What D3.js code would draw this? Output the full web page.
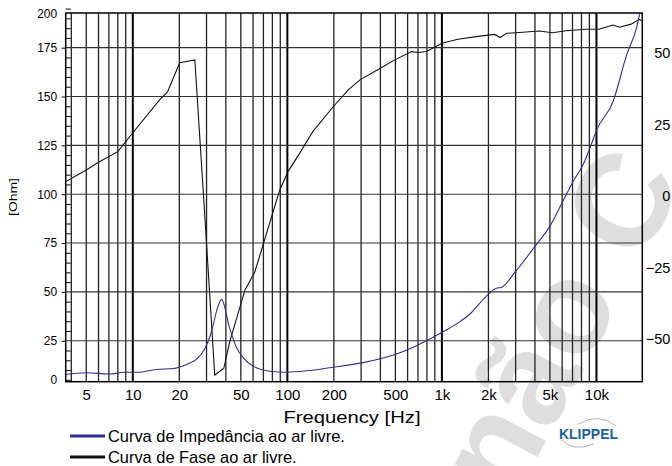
<!DOCTYPE html>
<html>
<head>
<meta charset="utf-8">
<script src="https://cdn.jsdelivr.net/npm/d3@7/dist/d3.min.js"></script>
<style>
  html, body { margin: 0; padding: 0; background: #fff; }
  svg { display: block; font-family: "Liberation Sans", Arial, sans-serif; }
</style>
</head>
<body>
<svg id="chart" width="672" height="466"></svg>
<script>
// impedance curve (Ohm) vs frequency (Hz)
const impFreq = [3.68, 5, 7.1, 8.8, 11.1, 12.9, 14.2, 18.2, 22.3, 25.8, 29.2, 32.3, 34.8, 37.5,
  42.4, 46.8, 51.8, 60.1, 77, 98.6, 140, 188, 309, 508, 686, 970, 1310, 1520, 1900, 2250, 2420,
  2980, 4000, 5010, 5960, 7080, 8220, 9290, 9920, 12850, 15700, 18200, 19100, 19600];
const impOhm = [7.7, 8.6, 8.0, 8.9, 8.9, 9.8, 10.3, 10.8, 12.9, 15.5, 20.8, 29.6, 40, 46.2,
  31.3, 21.7, 16.4, 12.0, 9.4, 8.9, 9.8, 11.2, 13.8, 18.2, 22.5, 28.7, 34.8, 38.7, 47.1, 51.9, 52.3,
  60.2, 73.3, 83.8, 95.2, 106.6, 115.3, 125.8, 132, 147.7, 171.4, 185.3, 192.4, 194.5];

// phase curve (degrees) vs frequency (Hz)
const phaseFreq = [3.68, 5, 6, 8, 10, 14.9, 16.8, 20.1, 25.2, 28.8, 33.9, 38.8, 42.4, 53.2, 61.6,
  89.3, 101, 120, 146, 198, 248, 295, 397, 495, 636, 700, 795, 1000, 1270, 1760, 2200, 2380, 2620,
  3170, 4270, 5200, 6340, 8550, 10400, 12750, 14100, 16750, 18950, 19540];
const phaseDeg = [5.0, 9.1, 11.8, 15.5, 22.1, 33.6, 36.5, 46.6, 47.6, -1.4, -62.7, -60.3, -51.0, -32.9, -26.6,
  2.1, 8.5, 14.9, 22.5, 31.2, 37.1, 40.6, 44.6, 47.6, 50.5, 50.2, 50.5, 53.4, 54.8, 55.9, 56.5, 55.4, 56.9,
  57.2, 57.7, 57.1, 57.8, 58.3, 58.3, 59.8, 59.0, 60.1, 61.8, 61.3];

const xTickValues = [5, 10, 20, 50, 100, 200, 500, 1000, 2000, 5000, 10000];
const xTickLabels = ['5', '10', '20', '50', '100', '200', '500', '1k', '2k', '5k', '10k'];
const yLeftTicks = [0, 25, 50, 75, 100, 125, 150, 175, 200];
const yRightTicks = [-50, -25, 0, 25, 50];
const legendLabels = ['Curva de Impedância ao ar livre.', 'Curva de Fase ao ar livre.'];

const PLOT = { left: 65.7, right: 642.3, top: 13, bottom: 381.7 };
const BLUE = '#2f2f9c';

const svg = d3.select('#chart');

// watermark, behind everything
svg.append('text')
  .attr('transform', 'translate(512,505) rotate(-62)')
  .attr('font-size', 132)
  .attr('font-weight', 'bold')
  .attr('fill', '#dedede')
  .text('não C');

const x = d3.scaleLog().domain([3.68, 19800]).range([PLOT.left, PLOT.right]);
// grid of the ohm axis is offset: 0 and 200 lie just outside the frame
const yL = d3.scaleLinear().domain([0, 200]).range([389.6, -1.2]);
const yR = d3.scaleLinear().domain([-65, 64]).range([PLOT.bottom, PLOT.top]);

svg.append('clipPath').attr('id', 'clip')
  .append('rect')
  .attr('x', PLOT.left).attr('y', PLOT.top)
  .attr('width', PLOT.right - PLOT.left).attr('height', PLOT.bottom - PLOT.top);

// vertical grid
const vGrid = [];
[1, 10, 100, 1000].forEach((d) => {
  for (let k = 1; k <= 9; k++) if (k * d >= 4) vGrid.push(k * d);
});
vGrid.push(10000);
svg.append('g')
  .selectAll('line')
  .data(vGrid)
  .join('line')
  .attr('x1', (d) => x(d)).attr('x2', (d) => x(d))
  .attr('y1', PLOT.top).attr('y2', PLOT.bottom)
  .attr('stroke', (d) => [10, 100, 1000, 10000].includes(d) ? '#000' : '#222')
  .attr('stroke-width', (d) => [10, 100, 1000, 10000].includes(d) ? 2 : 1.3);

// horizontal grid
svg.append('g')
  .selectAll('line')
  .data(yLeftTicks.filter((d) => d > 0 && d < 200))
  .join('line')
  .attr('x1', PLOT.left).attr('x2', PLOT.right)
  .attr('y1', (d) => yL(d)).attr('y2', (d) => yL(d))
  .attr('stroke', '#333')
  .attr('stroke-width', 1.1);

// curves
const impLine = d3.line().x((d, i) => x(impFreq[i])).y((d) => yL(d)).curve(d3.curveMonotoneX);
const phaseLine = d3.line().x((d, i) => x(phaseFreq[i])).y((d) => yR(d));

const curves = svg.append('g').attr('clip-path', 'url(#clip)');
curves.append('path')
  .datum(phaseDeg)
  .attr('d', phaseLine)
  .attr('fill', 'none')
  .attr('stroke', '#111')
  .attr('stroke-width', 1.1);
curves.append('path')
  .datum(impOhm)
  .attr('d', impLine)
  .attr('fill', 'none')
  .attr('stroke', BLUE)
  .attr('stroke-width', 1.1);

// frame
svg.append('rect')
  .attr('x', PLOT.left).attr('y', PLOT.top)
  .attr('width', PLOT.right - PLOT.left).attr('height', PLOT.bottom - PLOT.top)
  .attr('fill', 'none')
  .attr('stroke', '#000')
  .attr('stroke-width', 1.5);

// left axis: major ticks outside, labels
const leftAxis = svg.append('g')
  .attr('transform', `translate(${PLOT.left},0)`)
  .call(d3.axisLeft(yL).tickValues(yLeftTicks).tickSize(4).tickPadding(4.5));
leftAxis.select('.domain').remove();
leftAxis.selectAll('.tick').each(function (d) {
  if (d === 0 || d === 200) {
    const t = d3.select(this);
    t.attr('transform', `translate(0,${d === 0 ? 380 : 14})`);
    t.select('line').remove();
  }
});
leftAxis.selectAll('text')
  .attr('font-size', 12)
  .attr('fill', '#000')
  .attr('font-family', '"Liberation Sans", Arial, sans-serif');

// left axis minor ticks inside
const minor = d3.range(5, 200, 5).filter((d) => d % 25 !== 0);
const minorAxis = svg.append('g')
  .attr('transform', `translate(${PLOT.left},0)`)
  .call(d3.axisLeft(yL).tickValues(minor).tickSize(-5).tickFormat(''));
minorAxis.select('.domain').remove();
minorAxis.selectAll('line').attr('stroke', '#000');

// right axis (phase)
const rightAxis = svg.append('g')
  .attr('transform', `translate(${PLOT.right},0)`)
  .call(d3.axisRight(yR).tickValues(yRightTicks).tickSize(0).tickPadding(28));
rightAxis.select('.domain').remove();
rightAxis.selectAll('text')
  .attr('text-anchor', 'end')
  .attr('font-size', 14.5)
  .attr('fill', '#000')
  .attr('font-family', '"Liberation Sans", Arial, sans-serif');

// bottom axis
const bottomAxis = svg.append('g')
  .attr('transform', `translate(0,${PLOT.bottom})`)
  .call(d3.axisBottom(x).tickValues(xTickValues).tickSize(0).tickPadding(8)
    .tickFormat((d, i) => xTickLabels[i]));
bottomAxis.select('.domain').remove();
bottomAxis.selectAll('text')
  .attr('font-size', 15)
  .attr('fill', '#000')
  .attr('font-family', '"Liberation Sans", Arial, sans-serif');

// axis titles
svg.append('text')
  .attr('x', (PLOT.left + PLOT.right) / 2 - 2)
  .attr('y', 423)
  .attr('text-anchor', 'middle')
  .attr('font-size', 16)
  .attr('textLength', 137)
  .attr('lengthAdjust', 'spacingAndGlyphs')
  .text('Frequency [Hz]');

svg.append('text')
  .attr('transform', 'translate(17,197) rotate(-90)')
  .attr('text-anchor', 'middle')
  .attr('font-size', 11)
  .attr('textLength', 38)
  .attr('lengthAdjust', 'spacingAndGlyphs')
  .text('[Ohm]');

// legend
const legend = svg.append('g');
legendLabels.forEach((label, i) => {
  const ly = 436 + i * 21;
  legend.append('line')
    .attr('x1', 70).attr('x2', 105)
    .attr('y1', ly).attr('y2', ly)
    .attr('stroke', i === 0 ? BLUE : '#111')
    .attr('stroke-width', 3);
  legend.append('text')
    .attr('x', 108).attr('y', ly + 5.5)
    .attr('font-size', 16.4)
    .attr('fill', '#000')
    .text(label);
});

// KLIPPEL logo
const logo = svg.append('g');
logo.append('path')
  .attr('d', 'M 578 424 Q 600 412 616 426')
  .attr('fill', 'none').attr('stroke', '#9aa0a8').attr('stroke-width', 0.8);
logo.append('path')
  .attr('d', 'M 562 440 Q 572 452 594 444')
  .attr('fill', 'none').attr('stroke', '#9aa0a8').attr('stroke-width', 0.8);
logo.append('text')
  .attr('x', 559).attr('y', 438.5)
  .attr('font-size', 14)
  .attr('font-weight', 'bold')
  .attr('fill', '#1d5fa6')
  .attr('textLength', 59)
  .attr('lengthAdjust', 'spacingAndGlyphs')
  .text('KLIPPEL');
</script>
</body>
</html>
